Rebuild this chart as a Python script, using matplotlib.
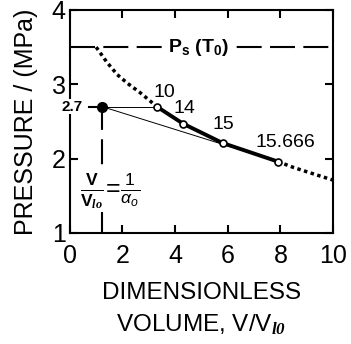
import numpy as np
import matplotlib
matplotlib.use('Agg')
import matplotlib.pyplot as plt

plt.rcParams['font.family'] = ['Liberation Sans', 'DejaVu Sans']
plt.rcParams['mathtext.fontset'] = 'custom'
plt.rcParams['mathtext.rm'] = 'Liberation Sans'
plt.rcParams['mathtext.it'] = 'Liberation Sans:italic'
plt.rcParams['mathtext.bf'] = 'Liberation Sans:bold'
plt.rcParams['mathtext.bfit'] = 'Liberation Serif:bold:italic'

# saturation pressure line
p_sat = 3.5

# dotted part of the isotherm before point "10"
x_pre = [1.0, 1.4, 1.8, 2.2, 2.66, 3.0, 3.3]
y_pre = [3.5, 3.3, 3.13, 3.01, 2.89, 2.79, 2.70]

# marked states (thick solid part)
x_pts = [3.3, 4.3, 5.8, 7.9]
y_pts = [2.70, 2.47, 2.21, 1.96]
pt_labels = ['10', '14', '15', '15.666']

# dotted part after the last state
x_post = [7.9, 8.5, 9.2, 10.0]
y_post = [1.96, 1.88, 1.80, 1.71]

# starting state V/Vl0 = 1/alpha0
x0 = 1.22
y0 = 2.7

fig = plt.figure(figsize=(3.51, 3.44), dpi=100)
ax = fig.add_axes([0.199, 0.323, 0.750, 0.648])

ax.plot([0, 10], [p_sat, p_sat], color='black', lw=1.5, dashes=(12, 4))
ax.text(4.9, p_sat, r'P$_\mathbf{s}$ (T$_\mathbf{0}$)', fontsize=14, fontweight='bold',
        ha='center', va='center', bbox=dict(facecolor='white', edgecolor='none', pad=0.5))

ax.plot(x_pre, y_pre, color='black', lw=2.5, linestyle=(0, (1, 1)))
ax.plot(x_post, y_post, color='black', lw=2.5, linestyle=(0, (1, 1)))
ax.plot(x_pts, y_pts, color='black', lw=2.8, solid_capstyle='butt')

# thin chords from the starting state
ax.plot([x0, x_pts[0]], [y0, y_pts[0]], color='black', lw=0.7)
ax.plot([x0, x_pts[-1]], [y0, y_pts[-1]], color='black', lw=0.7)

ax.plot(x_pts, y_pts, 'o', ms=5, mfc='white', mec='black', mew=1.2)
ax.plot([x0], [y0], 'o', ms=7, color='black')

offs = [(0.3, 0.19), (0.07, 0.21), (0.02, 0.25), (0.27, 0.25)]
for x, y, lab, (dx, dy) in zip(x_pts, y_pts, pt_labels, offs):
    ax.text(x + dx, y + dy, lab, fontsize=14, ha='center', va='center')

# vertical dashed line down to the axis
ax.plot([x0, x0], [1, y0], color='black', lw=1.5, dashes=(12, 4.5))
ax.text(x0 + 0.3, 1.56, r'$\frac{\mathbf{V}}{\mathbf{V}_{\mathbfit{lo}}}\!=\!\frac{1}{\alpha_o}$',
        fontsize=18, ha='center', va='center',
        bbox=dict(facecolor='white', edgecolor='none', pad=0.3))

# 2.7 marker on the axis
ax.text(0.1, y0, '2.7', fontsize=11, fontweight='bold', ha='center', va='center',
        clip_on=False, bbox=dict(facecolor='white', edgecolor='none', pad=0.3))
ax.plot([0.72, 0.98], [y0, y0], color='black', lw=1.5, clip_on=False)

ax.set_xlim(0, 10)
ax.set_ylim(1, 4)
ax.set_xticks([0, 2, 4, 6, 8, 10])
ax.set_yticks([1, 2, 3, 4])
ax.tick_params(direction='in', length=6, width=1.5, labelsize=18, top=True, right=True, pad=3)
ax.tick_params(axis='x', pad=8)
for s in ax.spines.values():
    s.set_linewidth(1.5)

ax.set_xlabel('DIMENSIONLESS\n' + r'VOLUME, V/V$_{\mathbfit{l0}}$', fontsize=17.5, linespacing=1.45, labelpad=10)
ax.set_ylabel('PRESSURE / (MPa)', fontsize=18, labelpad=10)

fig.savefig('out.png', dpi=100)
